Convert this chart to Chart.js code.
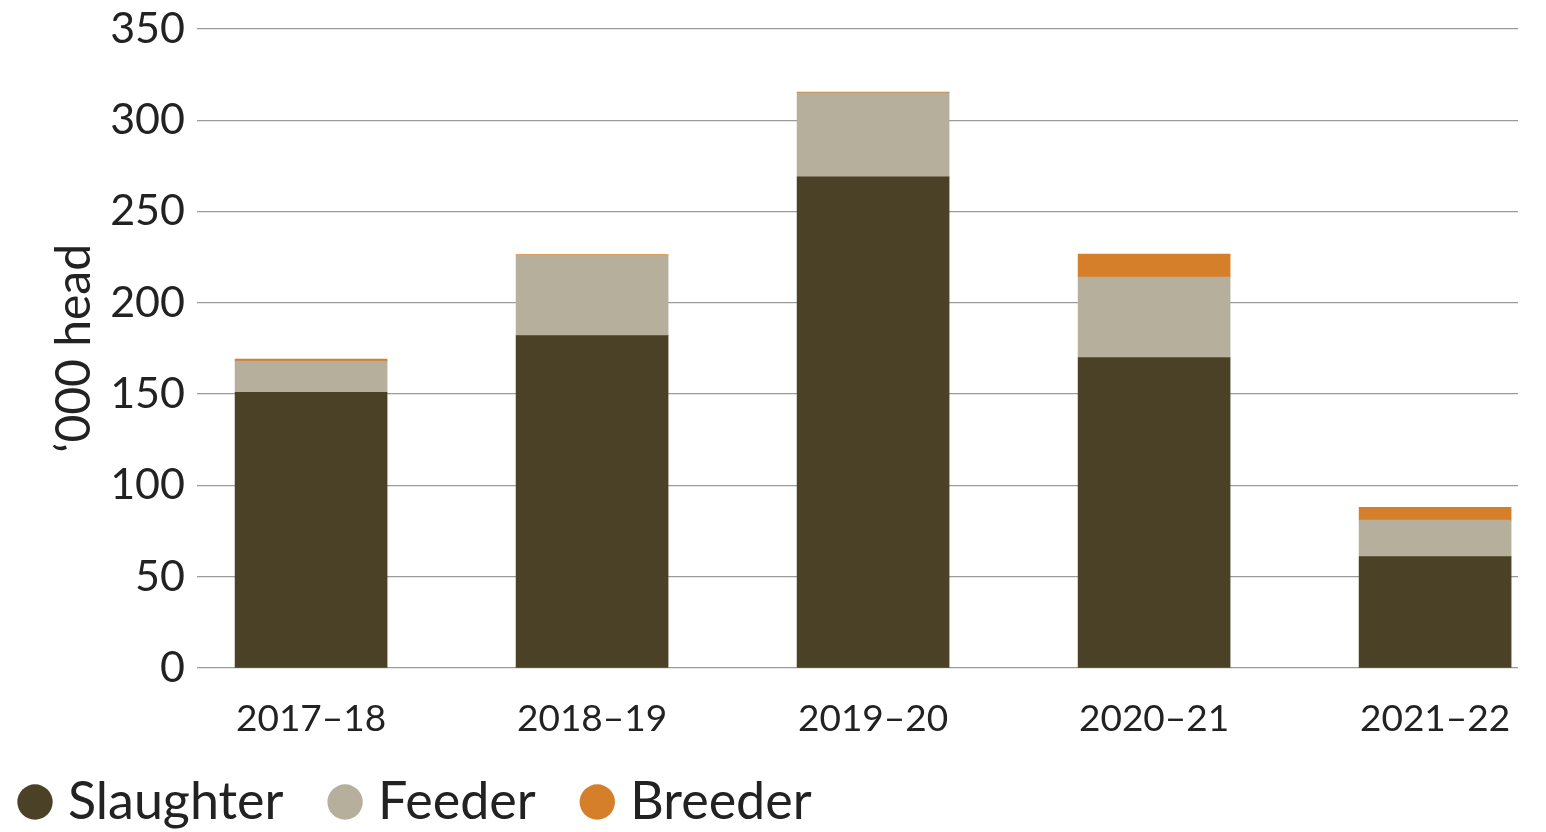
<!DOCTYPE html>
<html>
<head>
<meta charset="utf-8">
<script src="https://cdn.jsdelivr.net/npm/chart.js@4.4.1/dist/chart.umd.min.js"></script>
<style>
  html, body { margin: 0; padding: 0; background: #ffffff; overflow: hidden; }
  #wrap { width: 1546px; height: 832px; position: relative; overflow: hidden; }
  #c { position: absolute; left: 0; top: -9px; }
</style>
</head>
<body>
<div id="wrap"><canvas id="c" width="1546" height="847"></canvas></div>
<script>
const categories = ['2017–18', '2018–19', '2019–20', '2020–21', '2021–22'];
const slaughter = [151, 182, 269, 170, 61];
const feeder = [17, 44, 46, 44, 20];
const breeder = [1.1, 0.4, 0.4, 12.6, 7];
const yTicks = [0, 50, 100, 150, 200, 250, 300, 350];

const FONT = 'Lato, "Noto Sans", sans-serif';
const toPts = arr => arr.map((v, i) => ({ x: i, y: v }));

new Chart(document.getElementById('c'), {
  type: 'bar',
  data: {
    datasets: [
      { label: 'Slaughter', data: toPts(slaughter), backgroundColor: '#4b4126', borderWidth: 0 },
      { label: 'Feeder', data: toPts(feeder), backgroundColor: '#b5af9c', borderWidth: 0 },
      { label: 'Breeder', data: toPts(breeder), backgroundColor: '#d67f2a', borderWidth: 0 }
    ]
  },
  options: {
    responsive: false,
    animation: false,
    devicePixelRatio: 1,
    barThickness: 152,
    layout: { padding: { left: 0, right: 28, top: 13, bottom: 0 } },
    plugins: {
      tooltip: { enabled: false },
      legend: {
        position: 'bottom',
        align: 'start',
        labels: {
          usePointStyle: true,
          pointStyle: 'circle',
          boxWidth: 14,
          boxHeight: 25,
          color: '#222222',
          font: { family: FONT, size: 52 },
          padding: 28,
          generateLabels: chart => Chart.defaults.plugins.legend.labels.generateLabels(chart).map((l, i, a) => {
            if (i < a.length - 1) l.text = l.text + '  ';
            return l;
          })
        }
      }
    },
    scales: {
      x: {
        type: 'linear',
        stacked: true,
        offset: false,
        min: -0.406,
        max: 4.295,
        grid: { display: false, offset: false },
        border: { display: false },
        afterBuildTicks: s => { s.ticks = categories.map((c, i) => ({ value: i })); },
        afterFit: s => { s.height = 80; },
        ticks: {
          padding: 21,
          color: '#222222',
          font: { family: FONT, size: 37 },
          callback: v => categories[v] ?? ''
        }
      },
      y: {
        stacked: true,
        min: 0,
        max: 350,
        afterBuildTicks: s => { s.ticks = yTicks.map(v => ({ value: v })); },
        afterFit: s => { s.width = 197; },
        grid: { color: '#9a9a9a', lineWidth: 1.2, drawTicks: false },
        border: { display: false },
        ticks: {
          padding: 12,
          color: '#222222',
          font: { family: FONT, size: 43 }
        },
        title: {
          display: true,
          text: '‘000 head',
          color: '#222222',
          font: { family: FONT, size: 48 },
          padding: { top: 46, bottom: 0 }
        }
      }
    }
  }
});
</script>
</body>
</html>
